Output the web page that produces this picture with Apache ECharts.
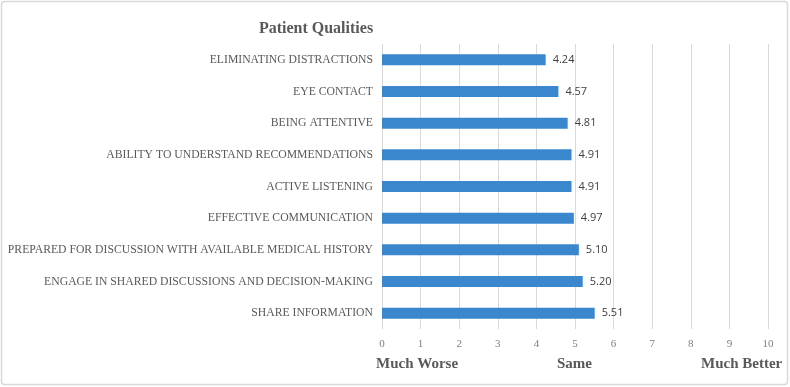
<!DOCTYPE html>
<html>
<head>
<meta charset="utf-8">
<script src="https://cdn.jsdelivr.net/npm/echarts@6/dist/echarts.min.js"></script>
<style>
  html, body { margin: 0; padding: 0; background: #fff; }
  #chart { width: 790px; height: 387px; }
</style>
</head>
<body>
<div id="chart"></div>
<script>
// categories listed bottom-to-top (category axis starts at the bottom)
const categories = [
    'SHARE INFORMATION',
    'ENGAGE IN SHARED DISCUSSIONS AND DECISION-MAKING',
    'PREPARED FOR DISCUSSION WITH AVAILABLE MEDICAL HISTORY',
    'EFFECTIVE COMMUNICATION',
    'ACTIVE LISTENING',
    'ABILITY TO UNDERSTAND RECOMMENDATIONS',
    'BEING ATTENTIVE',
    'EYE CONTACT',
    'ELIMINATING DISTRACTIONS',
];
const scores = [5.51, 5.20, 5.10, 4.97, 4.91, 4.91, 4.81, 4.57, 4.24];
const scaleLabels = ['Much Worse', 'Same', 'Much Better'];

const serif = '"Liberation Serif", "Times New Roman", serif';

const chart = echarts.init(document.getElementById('chart'));
chart.setOption({
    backgroundColor: '#fff',
    animation: false,
    title: {
        text: 'Patient Qualities',
        left: 311,
        top: 16,
        textAlign: 'center',
        textStyle: {
            fontFamily: serif,
            fontWeight: 'bold',
            fontSize: 16,
            color: '#595959',
        },
    },
    graphic: [
        {
            type: 'rect',
            shape: {x: 1.5, y: 1.5, width: 786, height: 383, r: 3},
            style: {fill: 'none', stroke: '#d9d9d9', lineWidth: 1.5},
            silent: true,
        },
        {
            type: 'text',
            left: 376,
            top: 357,
            style: {text: scaleLabels[0], font: 'bold 15px ' + serif, fill: '#595959'},
        },
        {
            type: 'text',
            left: 557,
            top: 357,
            style: {text: scaleLabels[1], font: 'bold 15px ' + serif, fill: '#595959'},
        },
        {
            type: 'text',
            left: 701,
            top: 357,
            style: {text: scaleLabels[2], font: 'bold 15px ' + serif, fill: '#595959'},
        },
    ],
    grid: {
        left: 382,
        right: 22,
        top: 44,
        height: 285,
        containLabel: false,
    },
    xAxis: {
        type: 'value',
        min: 0,
        max: 10,
        interval: 1,
        axisLine: {show: false},
        axisTick: {show: false},
        splitLine: {lineStyle: {color: '#d9d9d9', width: 1}},
        axisLabel: {
            fontFamily: serif,
            fontSize: 11,
            color: '#7f7f7f',
            margin: 10,
        },
    },
    yAxis: {
        type: 'category',
        data: categories,
        axisLine: {show: true, lineStyle: {color: '#d9d9d9'}},
        axisTick: {show: false},
        axisLabel: {
            fontFamily: serif,
            fontSize: 11.7,
            color: '#595959',
            margin: 9,
        },
    },
    series: [
        {
            type: 'bar',
            data: scores,
            barWidth: 11,
            itemStyle: {color: '#3a87cd'},
            label: {
                show: true,
                position: 'right',
                distance: 7,
                fontFamily: '"Open Sans", "Liberation Sans", sans-serif',
                fontSize: 11,
                color: '#404040',
                formatter: (p) => p.value.toFixed(2),
            },
        },
    ],
});
</script>
</body>
</html>
